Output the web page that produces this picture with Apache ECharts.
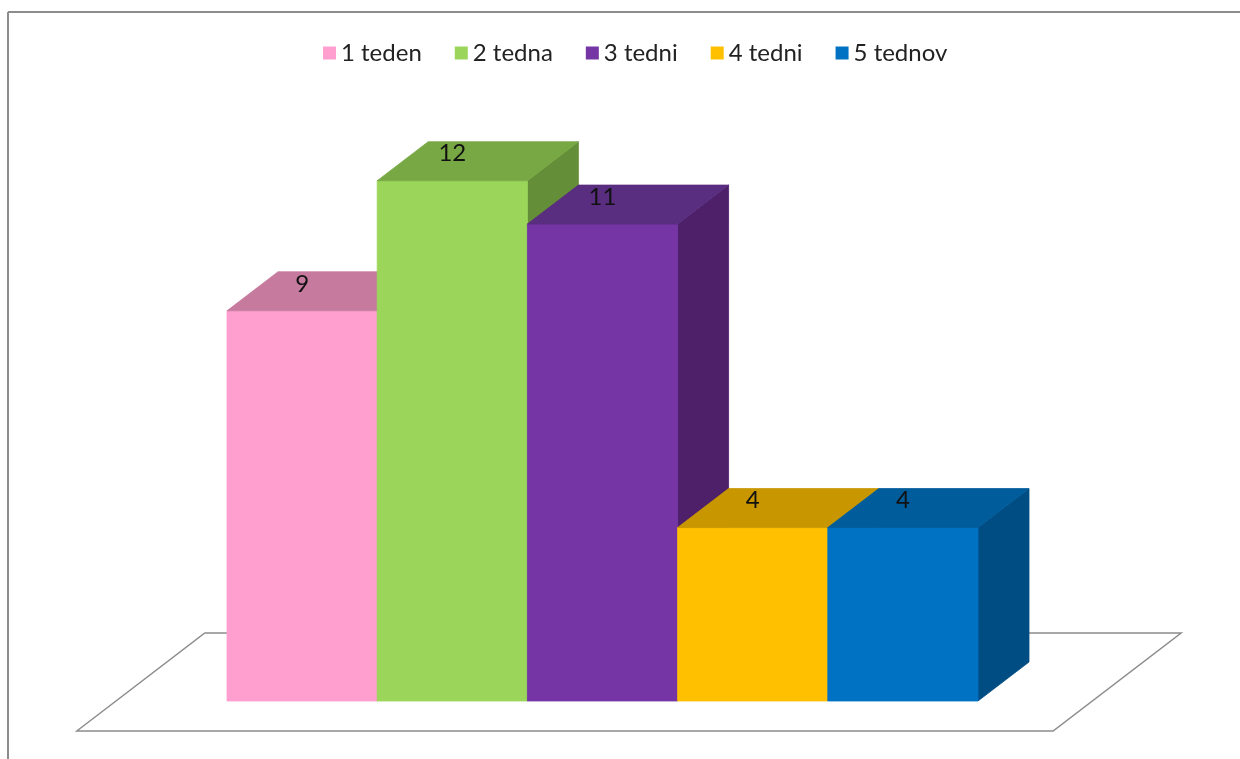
<!DOCTYPE html>
<html style="height: 100%">
<head>
<meta charset="utf-8">
<script src="https://cdn.jsdelivr.net/npm/echarts@6/dist/echarts.min.js"></script>
</head>
<body style="height: 100%; margin: 0; background: #fff">
<div id="container" style="width: 1240px; height: 759px"></div>
<script type="text/javascript">
var categories = ['1 teden', '2 tedna', '3 tedni', '4 tedni', '5 tednov'];
var values = [9, 12, 11, 4, 4];

// front / top / side shades, Excel style
var frontColors = ['#FF9FCF', '#9BD65A', '#7535A5', '#FFC000', '#0072C3'];
var topColors = ['#C57A9E', '#78A844', '#592D7F', '#C89700', '#005C9B'];
var sideColors = ['#A9668A', '#648E37', '#4D2069', '#A87E00', '#004D83'];

var DX = 51, DY = -39; // depth offset of the bars

var dom = document.getElementById('container');
var myChart = echarts.init(dom, null, {renderer: 'canvas'});

function barRenderer(i) {
    return function (params, api) {
        var idx = api.value(0), val = api.value(1);
        var top = api.coord([idx, val]);
        var base = api.coord([idx, 0]);
        var bw = api.size([1, 0])[0];
        var x0 = top[0] - bw / 2, x1 = top[0] + bw / 2;
        var yt = top[1], yb = base[1];
        return {
            type: 'group',
            children: [
                {type: 'polygon', shape: {points: [[x1, yt], [x1 + DX, yt + DY], [x1 + DX, yb + DY], [x1, yb]]},
                    style: {fill: sideColors[i], stroke: sideColors[i], lineWidth: 0.8}},
                {type: 'rect', shape: {x: x0, y: yt, width: bw, height: yb - yt},
                    style: {fill: frontColors[i], stroke: frontColors[i], lineWidth: 0.8}},
                {type: 'polygon', shape: {points: [[x0, yt], [x1, yt], [x1 + DX, yt + DY], [x0 + DX, yt + DY]]},
                    style: {fill: topColors[i], stroke: topColors[i], lineWidth: 0.8}},
                {type: 'text', style: {x: top[0], y: yt - 27, text: String(val), fill: '#111',
                    font: '24px Lato', align: 'center', verticalAlign: 'middle'}}
            ]
        };
    };
}

function floorRenderer(params, api) {
    var c0 = api.coord([0, 0]);
    var bw = api.size([1, 0])[0];
    var fy = c0[1] + 30;
    var lx = c0[0] - 1.5 * bw;
    var rx = c0[0] + 5 * bw;
    return {
        type: 'polygon',
        shape: {points: [[lx, fy], [lx + 128, fy - 98], [rx + 128, fy - 98], [rx, fy]]},
        style: {fill: '#fff', stroke: '#8c8c8c', lineWidth: 1.5}
    };
}

var series = [{
    type: 'custom',
    name: 'floor',
    z: 1,
    silent: true,
    renderItem: floorRenderer,
    data: [[0, 0]]
}];
for (var i = 0; i < categories.length; i++) {
    series.push({
        type: 'custom',
        name: categories[i],
        z: 2 + i,
        itemStyle: {color: frontColors[i]},
        renderItem: barRenderer(i),
        data: [[i, values[i]]]
    });
}

var option = {
    animation: false,
    backgroundColor: '#fff',
    legend: {
        data: categories,
        top: 36,
        left: 318,
        icon: 'rect',
        itemWidth: 13,
        itemHeight: 13,
        itemGap: 33,
        textStyle: {fontFamily: 'Lato', fontSize: 24, color: '#222'}
    },
    grid: {left: 227, right: 262, top: 94, bottom: 58},
    xAxis: {type: 'category', data: categories, show: false},
    yAxis: {type: 'value', min: 0, max: 14, show: false},
    graphic: [
        {type: 'line', shape: {x1: 8, y1: 12, x2: 1240, y2: 12}, style: {stroke: '#8c8c8c', lineWidth: 2}},
        {type: 'line', shape: {x1: 8, y1: 12, x2: 8, y2: 759}, style: {stroke: '#8c8c8c', lineWidth: 2}}
    ],
    series: series
};

myChart.setOption(option, true);
</script>
</body>
</html>
